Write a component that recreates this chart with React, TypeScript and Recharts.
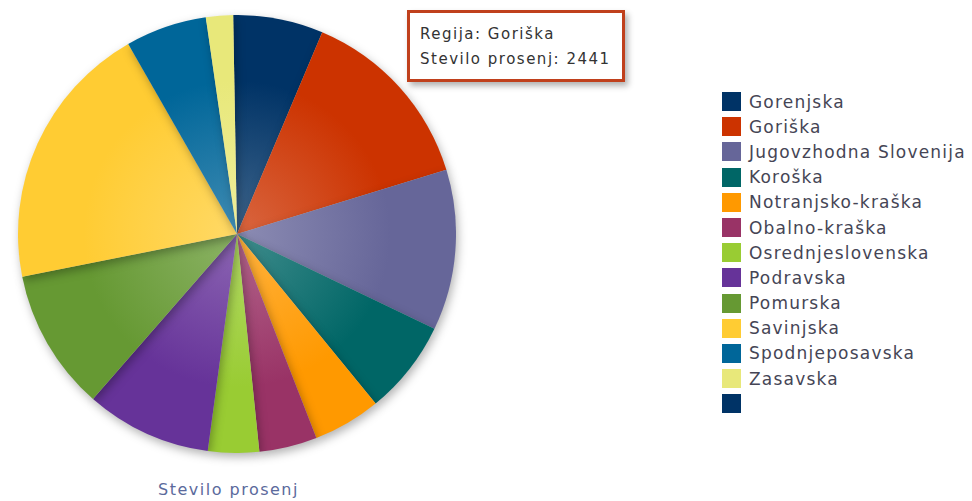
import React from "react";
import { PieChart, Pie, Cell, Tooltip } from "recharts";

// Regions, read clockwise from 12 o'clock
const regions = [
  "Gorenjska",
  "Goriška",
  "Jugovzhodna Slovenija",
  "Koroška",
  "Notranjsko-kraška",
  "Obalno-kraška",
  "Osrednjeslovenska",
  "Podravska",
  "Pomurska",
  "Savinjska",
  "Spodnjeposavska",
  "Zasavska",
  "",
];
const counts = [1166, 2441, 2082, 1224, 878, 751, 661, 1631, 1834, 3487, 1053, 351, 0];
const colors = [
  "#003366", "#cc3300", "#666699", "#006666", "#ff9900", "#993366",
  "#99cc33", "#663399", "#669933", "#ffcc33", "#006699", "#e8e87a", "#003366",
];
const seriesName = "Stevilo prosenj";

const data = regions.map((name, i) => ({ name, value: counts[i] }));

const CX = 237;
const CY = 234;
const R = 219;

function lighten(hex: string, amt: number) {
  const n = parseInt(hex.slice(1), 16);
  const r = (n >> 16) & 255, g = (n >> 8) & 255, b = n & 255;
  const f = (c: number) => Math.round(c + (255 - c) * amt);
  return `rgb(${f(r)},${f(g)},${f(b)})`;
}

function RegionTooltip({ active, payload }: { active?: boolean; payload?: Array<{ payload: { name: string; value: number } }> }) {
  if (!active || !payload || !payload.length) return null;
  const p = payload[0].payload;
  return (
    <div
      style={{
        background: "#fff",
        border: "3px solid #c0401c",
        boxShadow: "3px 4px 6px rgba(0,0,0,0.3)",
        padding: "9px 6px 7px 10px",
        fontFamily: "'DejaVu Sans', Verdana, sans-serif",
        fontSize: 15,
        letterSpacing: 1.5,
        lineHeight: "25px",
        color: "#333",
        whiteSpace: "nowrap",
        width: 196,
        boxSizing: "content-box",
      }}
    >
      <div>Regija: {p.name}</div>
      <div>{seriesName}: {p.value}</div>
    </div>
  );
}

export default function App() {
  return (
    <div style={{ position: "absolute", left: 0, top: 0, width: 972, height: 501, background: "#fff" }}>
      <PieChart width={972} height={501} margin={{ top: 0, right: 0, bottom: 0, left: 0 }}>
        <defs>
          {colors.map((c, i) => (
            <radialGradient key={i} id={`slice-${i}`} gradientUnits="userSpaceOnUse" cx={CX} cy={CY} r={R}>
              <stop offset="0%" stopColor={lighten(c, 0.25)} />
              <stop offset="70%" stopColor={c} />
              <stop offset="100%" stopColor={c} />
            </radialGradient>
          ))}
        </defs>
        <Pie
          data={data}
          dataKey="value"
          nameKey="name"
          cx={CX}
          cy={CY}
          outerRadius={R}
          startAngle={91}
          endAngle={-269}
          stroke="none"
          isAnimationActive={false}
          style={{ filter: "drop-shadow(2px 4px 5px rgba(0,0,0,0.3))" }}
        >
          {data.map((_, i) => (
            <Cell key={`cell-${i}`} fill={`url(#slice-${i})`} />
          ))}
        </Pie>
        <Tooltip
          active
          defaultIndex={1}
          position={{ x: 407, y: 10 }}
          content={<RegionTooltip />}
          isAnimationActive={false}
          wrapperStyle={{ outline: "none" }}
        />
      </PieChart>

      {/* legend */}
      <div style={{ position: "absolute", left: 722, top: 89, fontFamily: "'DejaVu Sans', Verdana, sans-serif", fontSize: 17, letterSpacing: 1.2, color: "#454555" }}>
        {regions.map((name, i) => (
          <div key={i} style={{ display: "flex", alignItems: "center", height: 25.2 }}>
            <span style={{ width: 19, height: 19, background: colors[i], display: "inline-block", marginRight: 8 }} />
            <span>{name}</span>
          </div>
        ))}
      </div>

      <div
        style={{
          position: "absolute",
          left: 158,
          top: 480,
          fontFamily: "'DejaVu Sans', Verdana, sans-serif",
          fontSize: 16,
          letterSpacing: 1.5,
          color: "#5b6a9c",
        }}
      >
        {seriesName}
      </div>
    </div>
  );
}
